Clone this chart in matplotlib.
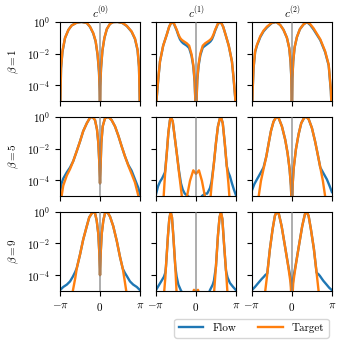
import numpy as np
import matplotlib
matplotlib.use("Agg")
import matplotlib.pyplot as plt

plt.rcParams.update({
    "font.family": "serif",
    "font.serif": ["cmr10", "DejaVu Serif"],
    "mathtext.fontset": "cm",
    "axes.formatter.use_mathtext": True,
    "font.size": 8,
})

# x positions are in units of pi, values are log10 of the density
coeffs = ["$c^{(0)}$", "$c^{(1)}$", "$c^{(2)}$"]
betas = ["$\\beta = 1$", "$\\beta = 5$", "$\\beta = 9$"]

# beta = 1
x_b1_c0 = [-1, -0.99, -0.975, -0.94, -0.875, -0.79, -0.71, -0.58, -0.46, -0.33, -0.25, -0.17, -0.11, -0.06, -0.025, -0.008, 0,
           0.008, 0.025, 0.06, 0.11, 0.17, 0.25, 0.33, 0.44, 0.56, 0.67, 0.79, 0.875, 0.94, 0.975, 0.99, 1.0]
target_b1_c0 = [-6, -4.8, -2.9, -1.85, -1.0, -0.5, -0.23, -0.04, 0, -0.06, -0.3, -0.7, -1.2, -2.05, -3.1, -4.2, -6,
                -4.0, -2.9, -1.8, -1.0, -0.45, -0.12, -0.01, 0, -0.06, -0.25, -0.6, -1.05, -1.75, -2.8, -4.5, -6]
flow_b1_c0 = [-6, -4.9, -2.95, -1.9, -1.02, -0.5, -0.22, -0.04, 0, -0.07, -0.31, -0.72, -1.23, -2.1, -3.2, -4.4, -6,
              -4.1, -2.95, -1.82, -1.02, -0.46, -0.12, -0.01, 0, -0.07, -0.26, -0.62, -1.08, -1.8, -2.85, -4.6, -6]

x_b1_c1 = [-1, -0.983, -0.94, -0.9, -0.82, -0.73, -0.67, -0.61, -0.55, -0.48, -0.44, -0.4, -0.36, -0.32, -0.23, -0.17, -0.11,
           -0.067, -0.033, 0,
           0.033, 0.067, 0.11, 0.17, 0.23, 0.32, 0.36, 0.4, 0.44, 0.48, 0.55, 0.62, 0.68, 0.74, 0.82, 0.9, 0.94, 0.983, 1.0]
target_b1_c1 = [-6, -4.8, -3.5, -2.5, -1.5, -0.8, -0.3, 0, -0.1, -0.5, -0.78, -1.0, -1.12, -1.2, -1.35, -1.5, -2.05,
                -2.7, -3.7, -6,
                -3.6, -2.65, -2.0, -1.5, -1.35, -1.2, -1.12, -1.0, -0.78, -0.5, -0.1, 0, -0.3, -0.8, -1.5, -2.5, -3.5, -4.8, -6]
flow_b1_c1 = [-6, -4.85, -3.55, -2.5, -1.5, -0.8, -0.3, 0, -0.12, -0.55, -0.85, -1.1, -1.25, -1.35, -1.5, -1.65, -2.15,
              -2.8, -3.8, -6,
              -3.7, -2.75, -2.1, -1.62, -1.5, -1.33, -1.24, -1.1, -0.85, -0.55, -0.12, 0, -0.3, -0.8, -1.5, -2.5, -3.55, -4.85, -6]

x_b1_c2 = [-1, -0.983, -0.96, -0.92, -0.875, -0.79, -0.71, -0.625, -0.5, -0.39, -0.29, -0.21, -0.125, -0.067, -0.033, -0.012, 0,
           0.012, 0.033, 0.067, 0.125, 0.2, 0.29, 0.375, 0.46, 0.54, 0.71, 0.83, 0.92, 0.975, 1.0]
target_b1_c2 = [-6, -4.35, -2.9, -1.85, -1.45, -0.9, -0.55, -0.3, -0.05, 0, -0.2, -0.5, -1.0, -1.65, -2.5, -3.6, -6,
                -3.5, -2.45, -1.6, -0.95, -0.45, -0.15, 0, -0.15, -0.4, -1.1, -1.85, -2.7, -4.3, -6]
flow_b1_c2 = [-6, -4.4, -2.95, -1.9, -1.5, -0.95, -0.6, -0.35, -0.07, 0, -0.2, -0.5, -1.0, -1.65, -2.55, -3.7, -6,
              -3.6, -2.5, -1.62, -0.96, -0.46, -0.16, 0, -0.2, -0.47, -1.15, -1.9, -2.75, -4.4, -6]

# beta = 5
x_b5_c0 = [-1, -0.96, -0.92, -0.83, -0.75, -0.67, -0.58, -0.5, -0.42, -0.33, -0.25, -0.19, -0.125, -0.075, -0.042, -0.017, 0,
           0.017, 0.033, 0.067, 0.125, 0.21, 0.29, 0.375, 0.46, 0.54, 0.625, 0.71, 0.79, 0.875, 0.96, 1.0]
target_b5_c0 = [-6, -5.0, -4.35, -3.7, -3.3, -2.8, -2.15, -1.55, -0.9, -0.4, -0.05, 0, -0.2, -0.8, -1.65, -2.9, -4.2,
                -2.9, -1.65, -0.6, -0.08, 0, -0.2, -0.6, -1.2, -1.85, -2.5, -3.1, -3.6, -4.15, -5.0, -6]
flow_b5_c0 = [-4.75, -4.2, -3.9, -3.5, -3.2, -2.8, -2.15, -1.55, -0.9, -0.4, -0.05, 0, -0.2, -0.8, -1.65, -2.9, -4.2,
              -2.9, -1.65, -0.6, -0.08, 0, -0.2, -0.6, -1.2, -1.85, -2.5, -3.05, -3.4, -3.95, -4.5, -4.9]

x_b5_c1 = [-1, -0.95, -0.9, -0.85, -0.82, -0.775, -0.73, -0.69, -0.65, -0.625, -0.58, -0.54, -0.48, -0.425, -0.375, -0.33,
           -0.28, -0.23, -0.15, -0.067, 0, 0.075, 0.15, 0.23, 0.28, 0.35, 0.39, 0.45, 0.5, 0.55, 0.6, 0.625, 0.67, 0.72,
           0.77, 0.81, 0.85, 0.9, 0.95, 1.0]
target_b5_c1 = [-6, -6, -6, -6, -5.5, -3.7, -2.3, -1.0, -0.2, 0, -0.3, -1.1, -2.3, -3.5, -4.55, -5.5,
                -6, -5.1, -4.05, -3.38, -3.6, -3.38, -4.05, -5.1, -6, -5.5, -4.35, -2.9, -1.65, -0.6, -0.08, 0, -0.4, -1.65,
                -3.1, -4.15, -5.5, -6, -6, -6]
flow_b5_c1 = [-4.9, -4.4, -4.1, -3.9, -3.75, -3.5, -2.3, -1.0, -0.2, 0, -0.3, -1.1, -2.3, -3.4, -4.2, -4.6,
              -4.85, -4.95, -5.1, -5.3, -5.4, -5.3, -5.0, -4.85, -4.85, -4.5, -4.1, -2.9, -1.65, -0.6, -0.08, 0, -0.4, -1.65,
              -3.1, -3.5, -3.75, -4.2, -4.6, -4.95]

x_b5_c2 = [-1, -0.94, -0.875, -0.83, -0.775, -0.71, -0.64, -0.58, -0.525, -0.46, -0.39, -0.33, -0.25, -0.167, -0.108, -0.058,
           -0.025, 0, 0.017, 0.042, 0.1, 0.167, 0.233, 0.31, 0.36, 0.42, 0.5, 0.58, 0.64, 0.71, 0.775, 0.83, 0.875, 0.94, 1.0]
target_b5_c2 = [-6, -6, -5.6, -5.0, -4.05, -3.3, -2.5, -1.65, -0.9, -0.3, 0, -0.08, -0.6, -1.45, -2.3, -3.3,
                -4.35, -6, -4.35, -3.3, -2.05, -1.1, -0.4, -0.04, 0, -0.15, -0.7, -1.55, -2.3, -3.2, -4.05, -5.0, -5.6, -6, -6]
flow_b5_c2 = [-4.65, -4.25, -3.95, -3.75, -3.5, -3.2, -2.5, -1.65, -0.9, -0.3, 0, -0.08, -0.6, -1.45, -2.3, -3.3,
              -4.35, -6, -4.35, -3.3, -2.05, -1.1, -0.4, -0.04, 0, -0.15, -0.7, -1.55, -2.3, -3.2, -3.5, -3.75, -3.95, -4.35, -4.75]

# beta = 9
x_b9_c0 = [-1, -0.92, -0.83, -0.75, -0.68, -0.62, -0.58, -0.5, -0.42, -0.33, -0.27, -0.18, -0.125, -0.083, -0.042, -0.017, 0,
           0.017, 0.042, 0.083, 0.125, 0.18, 0.25, 0.33, 0.42, 0.5, 0.57, 0.62, 0.68, 0.75, 0.83, 0.92, 1.0]
target_b9_c0 = [-6, -6, -6, -6, -5.0, -4.2, -3.55, -2.7, -1.75, -0.9, -0.35, 0, -0.08, -0.55, -1.4, -2.6, -4.0,
                -2.6, -1.4, -0.55, -0.08, 0, -0.3, -0.9, -1.85, -2.85, -3.6, -4.4, -5.4, -6, -6, -6, -6]
flow_b9_c0 = [-4.95, -4.75, -4.6, -4.4, -4.1, -3.8, -3.55, -2.7, -1.75, -0.9, -0.35, 0, -0.08, -0.55, -1.4, -2.6, -4.0,
              -2.6, -1.4, -0.55, -0.08, 0, -0.3, -0.9, -1.85, -2.85, -3.6, -3.85, -4.1, -4.4, -4.6, -4.75, -4.95]

x_b9_c1 = [-1, -0.93, -0.87, -0.8, -0.767, -0.75, -0.7, -0.667, -0.633, -0.6, -0.567, -0.517, -0.483, -0.44, -0.38, -0.3,
           -0.2, -0.1, -0.05, 0, 0.05, 0.1, 0.2, 0.3, 0.35, 0.42, 0.45, 0.5, 0.55, 0.59, 0.625, 0.66, 0.7, 0.75, 0.79, 0.85,
           0.93, 1.0]
target_b9_c1 = [-6, -6, -6, -5.2, -4.2, -3.45, -1.5, -0.45, 0, -0.35, -1.5, -3.45, -5.2, -6, -6, -6,
                -6, -5.3, -4.93, -5.05, -4.93, -5.3, -6, -6, -6, -6, -5.2, -3.45, -1.5, -0.35, 0, -0.45, -1.95, -3.65, -5.2, -6,
                -6, -6]
flow_b9_c1 = [-4.95, -4.65, -4.4, -4.1, -3.85, -3.45, -1.5, -0.45, 0, -0.35, -1.5, -3.45, -4.1, -4.6, -4.95, -5.3,
              -5.5, -5.6, -5.6, -5.6, -5.6, -5.6, -5.5, -5.3, -4.95, -4.6, -4.35, -3.45, -1.5, -0.35, 0, -0.45, -1.95, -3.7, -4.15, -4.5,
              -4.75, -4.95]

x_b9_c2 = [-1, -0.925, -0.842, -0.758, -0.7, -0.667, -0.617, -0.55, -0.483, -0.425, -0.383, -0.325, -0.258, -0.175, -0.092,
           -0.033, 0, 0.033, 0.092, 0.175, 0.258, 0.325, 0.367, 0.417, 0.475, 0.55, 0.617, 0.667, 0.7, 0.783, 0.867, 0.933, 1.0]
target_b9_c2 = [-6, -6, -6, -6, -5.6, -5.0, -3.95, -2.35, -1.1, -0.25, 0, -0.15, -0.9, -2.15, -3.45,
                -4.5, -6, -4.5, -3.45, -2.15, -0.9, -0.15, 0, -0.25, -1.1, -2.35, -3.85, -5.0, -5.6, -6, -6, -6, -6]
flow_b9_c2 = [-4.95, -4.75, -4.5, -4.25, -4.1, -4.0, -3.9, -2.35, -1.1, -0.25, 0, -0.15, -0.9, -2.15, -3.4,
              -4.2, -5.4, -4.2, -3.4, -2.15, -0.9, -0.15, 0, -0.25, -1.1, -2.35, -3.85, -3.95, -4.05, -4.35, -4.6, -4.8, -4.95]

panels = [
    [(x_b1_c0, flow_b1_c0, target_b1_c0), (x_b1_c1, flow_b1_c1, target_b1_c1), (x_b1_c2, flow_b1_c2, target_b1_c2)],
    [(x_b5_c0, flow_b5_c0, target_b5_c0), (x_b5_c1, flow_b5_c1, target_b5_c1), (x_b5_c2, flow_b5_c2, target_b5_c2)],
    [(x_b9_c0, flow_b9_c0, target_b9_c0), (x_b9_c1, flow_b9_c1, target_b9_c1), (x_b9_c2, flow_b9_c2, target_b9_c2)],
]

fig, axes = plt.subplots(3, 3, figsize=(3.45, 3.48), dpi=100, sharex=True, sharey=True)
fig.subplots_adjust(left=0.174, right=0.962, top=0.937, bottom=0.164, wspace=0.2, hspace=0.2)

for i in range(3):
    for j in range(3):
        ax = axes[i, j]
        x, flow, target = panels[i][j]
        x = np.array(x) * np.pi
        ax.plot(x, 10.0 ** np.array(flow), color="tab:blue", lw=1.7, label="Flow")
        ax.plot(x, 10.0 ** np.array(target), color="tab:orange", lw=1.7, label="Target")
        ax.axvline(0, color="gray", lw=1.2, alpha=0.75, zorder=3)
        ax.set_yscale("log")
        ax.set_ylim(1e-5, 1)
        ax.set_xlim(-np.pi, np.pi)
        ax.set_yticks([1e-4, 1e-2, 1])
        ax.minorticks_off()
        ax.set_xticks([-np.pi, 0, np.pi])
        ax.set_xticklabels(["$-\\pi$", "$0$", "$\\pi$"])
        if i == 0:
            ax.set_title(coeffs[j], fontsize=8, pad=3)
        if j == 0:
            ax.set_ylabel(betas[i], fontsize=8)
        ax.tick_params(labelsize=8, length=3.5)

handles, labels = axes[0, 0].get_legend_handles_labels()
fig.legend(handles, labels, loc="center", ncol=2, bbox_to_anchor=(0.729, 0.057),
           fontsize=8, handlelength=2.2, columnspacing=2.0, frameon=True)

fig.savefig("out.png", dpi=100)
